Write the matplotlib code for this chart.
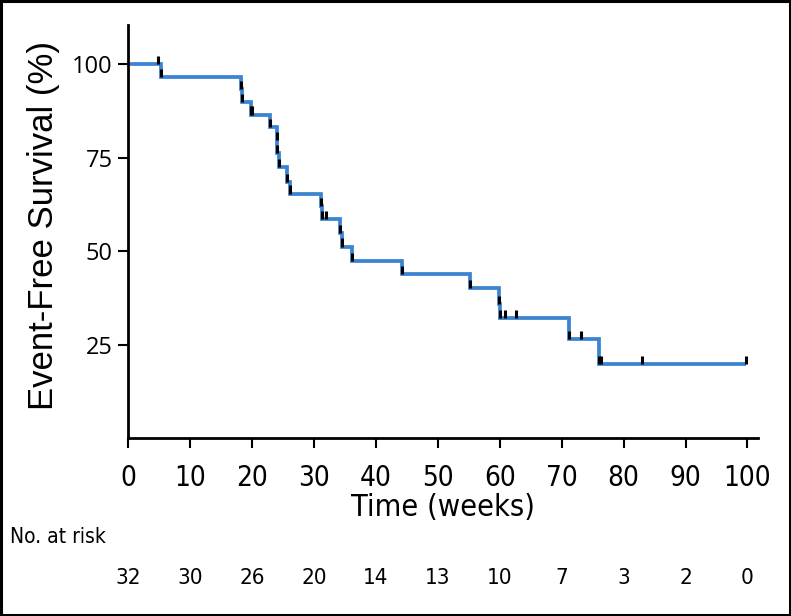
import matplotlib
matplotlib.use('Agg')
import matplotlib.pyplot as plt
import matplotlib.transforms as mtransforms
from matplotlib.patches import Rectangle

# Kaplan-Meier step curve (weeks, event-free survival %)
step_times = [0, 5.4, 18.2, 18.4, 19.8, 23.0, 24.0, 24.1, 24.4, 25.6, 26.1,
              31.2, 31.3, 34.2, 34.5, 36.1, 44.2, 55.2, 59.9, 60.1, 71.2, 76.0, 99.7]
step_surv = [100, 96.6, 93.3, 89.8, 86.5, 83.1, 79.8, 76.2, 72.5, 68.5, 65.4,
             62.0, 58.6, 54.8, 51.2, 47.4, 43.8, 40.1, 35.9, 32.1, 26.4, 19.7, 19.7]

# censoring marks
censor_times = [4.8, 20.0, 31.9, 60.9, 62.6, 73.1, 76.3, 83.0, 99.7]
censor_surv = [100, 86.5, 58.6, 32.1, 32.1, 26.4, 19.7, 19.7, 19.7]

# number at risk table
risk_weeks = [0, 10, 20, 30, 40, 50, 60, 70, 80, 90, 100]
at_risk = [32, 30, 26, 20, 14, 13, 10, 7, 3, 2, 0]

x_ticks = [0, 10, 20, 30, 40, 50, 60, 70, 80, 90, 100]
y_ticks = [25, 50, 75, 100]

COND = ['Liberation Sans Narrow', 'DejaVu Sans']

fig = plt.figure(figsize=(7.91, 6.16), dpi=100)
ax = fig.add_axes([0.1618, 0.289, 0.9583 - 0.1618, 0.9594 - 0.289])

blue = '#3b84d0'
ax.step(step_times, step_surv, where='post', color=blue, lw=2.7, zorder=2,
        solid_joinstyle='miter', solid_capstyle='butt')

tick_len = 2.2
ev_t = step_times[1:-1]
ev_s = step_surv[1:-1]
ax.vlines(ev_t, ev_s, [s + tick_len for s in ev_s], color='black', lw=2.2, zorder=3)
ax.vlines(censor_times, censor_surv, [s + tick_len for s in censor_surv],
          color='black', lw=2.2, zorder=3)

ax.set_xlim(0, 101.7)
ax.set_ylim(0, 110.5)
ax.set_xticks(x_ticks)
ax.set_yticks(y_ticks)
ax.set_xticklabels([str(v) for v in x_ticks], family=COND, stretch='condensed', fontsize=20)
ax.set_yticklabels([str(v) for v in y_ticks], family=['Open Sans', 'DejaVu Sans'], fontsize=17)
ax.tick_params(axis='x', length=7, width=1.5, direction='out', pad=12, colors='black')
ax.tick_params(axis='y', length=7, width=1.5, direction='out', pad=4, colors='black')

for side in ['top', 'right']:
    ax.spines[side].set_visible(False)
for side in ['left', 'bottom']:
    ax.spines[side].set_linewidth(2)
    ax.spines[side].set_color('black')

ax.set_ylabel('Event-Free Survival (%)', family=['Liberation Sans', 'DejaVu Sans'],
              fontsize=25)
ax.yaxis.set_label_coords(-(128 - 60) / (758 - 128), 0.515)
fig.text((0.1618 + 0.9583) / 2, 1 - 507 / 616, 'Time (weeks)', family=COND,
         stretch='condensed', fontsize=22, ha='center', va='center')

fig.text(10 / 791, 1 - 537 / 616, 'No. at risk', family=COND, stretch='condensed',
         fontsize=15, ha='left', va='center')
trans = mtransforms.blended_transform_factory(ax.transData, fig.transFigure)
for w, n in zip(risk_weeks, at_risk):
    ax.text(w, 1 - 578 / 616, str(n), transform=trans, family=COND, stretch='condensed',
            fontsize=16, ha='center', va='center', clip_on=False)

fig.patches.append(Rectangle((0.0015, 0.002), 0.997, 0.996, transform=fig.transFigure,
                             fill=False, edgecolor='black', lw=2.2))

fig.savefig('out.png', dpi=100)
